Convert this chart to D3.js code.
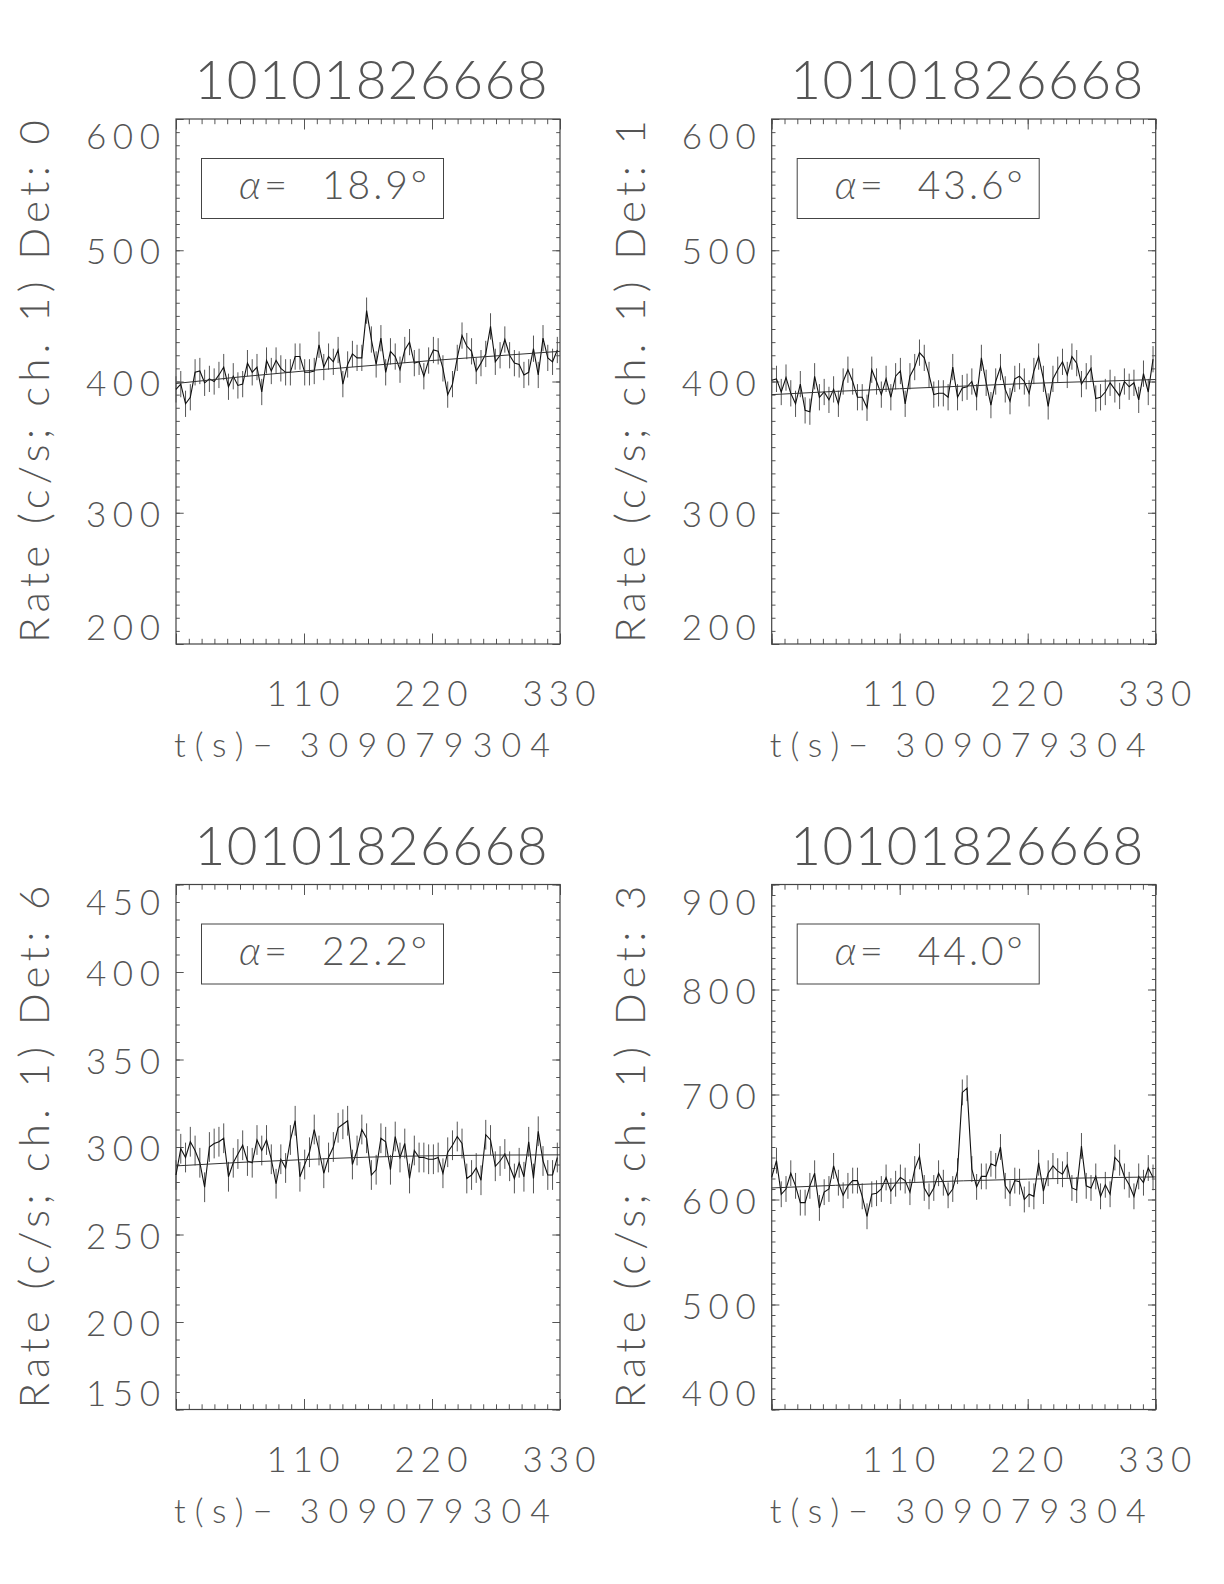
<!DOCTYPE html>
<html>
<head>
<meta charset="utf-8">
<script src="https://cdn.jsdelivr.net/npm/d3@7"></script>
<style>
  body { margin: 0; background: #fff; }
  svg text { font-family: Lato, Roboto, "DejaVu Sans", sans-serif; font-weight: 300; fill: #555; }
</style>
</head>
<body>
<div id="chart"></div>
<script>
// bin times, seconds after 309079304
var times = [
  0, 4.1, 8.2, 12.3, 16.4, 20.5, 24.6, 28.7, 32.8, 36.9,
  41.0, 45.1, 49.2, 53.2, 57.3, 61.4, 65.5, 69.6, 73.7, 77.8,
  81.9, 86.0, 90.1, 94.2, 98.3, 102.4, 106.5, 110.6, 114.7, 118.8,
  122.9, 127.0, 131.1, 135.2, 139.3, 143.4, 147.5, 151.6, 155.6, 159.7,
  163.8, 167.9, 172.0, 176.1, 180.2, 184.3, 188.4, 192.5, 196.6, 200.7,
  204.8, 208.9, 213.0, 217.1, 221.2, 225.3, 229.4, 233.5, 237.6, 241.7,
  245.8, 249.9, 254.0, 258.0, 262.1, 266.2, 270.3, 274.4, 278.5, 282.6,
  286.7, 290.8, 294.9, 299.0, 303.1, 307.2, 311.3, 315.4, 319.5, 323.6,
  327.7];

var det0Rate = [
  394, 398, 383, 388, 407, 408, 399, 402, 400, 405,
  411, 396, 404, 397, 398, 414, 407, 411, 392, 416,
  408, 416, 410, 407, 407, 419, 419, 407, 407, 408,
  428, 411, 419, 415, 424, 398, 413, 421, 418, 418,
  454, 432, 413, 433, 407, 423, 419, 409, 424, 430,
  414, 415, 404, 416, 424, 423, 410, 390, 398, 418,
  435, 427, 423, 408, 414, 421, 442, 415, 420, 432,
  420, 414, 413, 405, 407, 425, 405, 433, 418, 415,
  424];

var det1Rate = [
  401, 402, 392, 403, 391, 383, 398, 378, 377, 404,
  388, 392, 386, 394, 383, 400, 409, 400, 388, 388,
  380, 409, 400, 390, 402, 388, 404, 408, 383, 404,
  411, 422, 418, 405, 390, 391, 391, 388, 411, 388,
  395, 396, 400, 388, 418, 399, 382, 400, 411, 394,
  385, 402, 404, 400, 391, 408, 419, 402, 381, 402,
  409, 415, 405, 419, 414, 398, 404, 410, 387, 388,
  392, 399, 394, 389, 400, 396, 399, 386, 406, 392,
  417];

var det6Rate = [
  284, 299, 294, 303, 298, 291, 277, 300, 302, 303,
  305, 283, 291, 296, 301, 292, 291, 304, 298, 304,
  293, 279, 293, 288, 304, 315, 283, 290, 297, 310,
  298, 285, 294, 300, 311, 313, 315, 290, 298, 310,
  305, 284, 287, 305, 303, 287, 306, 294, 302, 282,
  298, 294, 294, 293, 293, 294, 285, 297, 301, 306,
  302, 282, 284, 288, 281, 307, 304, 289, 292, 296,
  289, 282, 291, 283, 303, 282, 309, 292, 284, 284,
  294];

var det3Rate = [
  621, 637, 605, 610, 625, 613, 597, 597, 613, 625,
  592, 607, 610, 632, 616, 604, 613, 618, 618, 603,
  584, 605, 606, 610, 621, 608, 615, 621, 618, 607,
  629, 641, 611, 603, 611, 625, 616, 604, 610, 627,
  702, 706, 629, 612, 622, 622, 634, 632, 650, 613,
  606, 618, 617, 600, 605, 603, 635, 608, 625, 632,
  627, 624, 633, 611, 609, 651, 613, 611, 622, 603,
  614, 605, 640, 635, 622, 614, 603, 622, 616, 630,
  621];

// background fit, sampled
var fitTimes = [0, 55, 110, 165, 220, 275, 330];
var det0Fit = [398.5, 403.5, 408, 412, 416, 419.5, 423];
var det1Fit = [390, 392.5, 394.5, 396.5, 398.5, 400, 401.5];
var det6Fit = [289.2, 291.2, 292.8, 294.2, 295, 295.4, 295.5];
var det3Fit = [611, 613.5, 615.8, 617.8, 619.4, 620.6, 621.5];

var rateErr = [10, 10, 8.5, 12.3];
var detNames = ["0", "1", "6", "3"];
var alphas = ["18.9", "43.6", "22.2", "44.0"];
var yRanges = [[200, 600], [200, 600], [150, 450], [400, 900]];
var yMajor = [100, 100, 50, 100];
var xMajorTicks = [0, 110, 220, 330];
var xTickLabels = ["", "110", "220", "330"];
var title = "10101826668";
var xTitle = "t(s)\u2212 309079304";

var rates = [det0Rate, det1Rate, det6Rate, det3Rate];
var fits = [det0Fit, det1Fit, det6Fit, det3Fit];

var lefts = [176, 771.7, 176, 771.7],
    tops = [119, 119, 884.5, 884.5];
var w = 384, h = 525;

var svg = d3.select("#chart")
  .append("svg")
    .attr("width", 1224)
    .attr("height", 1584);

rates.forEach(function(rate, p) {
  var g = svg.append("g")
    .attr("transform", `translate(${lefts[p]},${tops[p]})`);

  var x = d3.scaleLinear().domain([0, 330]).range([0, w]),
      y = d3.scaleLinear().domain(yRanges[p]).range([h, 0]);

  var xMinor = d3.range(0, 331, 11),
      yMinor = d3.range(yRanges[p][0], yRanges[p][1] + 1, 10),
      yTicks = d3.range(yRanges[p][0], yRanges[p][1] + 1, yMajor[p]);

  function noDomain(a) { a.select(".domain").remove(); a.selectAll("line").attr("stroke", "#555"); }

  // ticks on all four sides, pointing inward
  g.append("g").attr("transform", `translate(0,${h})`)
    .call(d3.axisBottom(x).tickValues(xMinor).tickSize(-5.2).tickFormat("")).call(noDomain);
  g.append("g").attr("transform", `translate(0,${h})`)
    .call(d3.axisBottom(x).tickValues(xMajorTicks).tickSize(-10.5).tickFormat("")).call(noDomain);
  g.append("g")
    .call(d3.axisTop(x).tickValues(xMinor).tickSize(-5.2).tickFormat("")).call(noDomain);
  g.append("g")
    .call(d3.axisTop(x).tickValues(xMajorTicks).tickSize(-10.5).tickFormat("")).call(noDomain);
  g.append("g")
    .call(d3.axisLeft(y).tickValues(yMinor).tickSize(-3.8).tickFormat("")).call(noDomain);
  g.append("g")
    .call(d3.axisLeft(y).tickValues(yTicks).tickSize(-7.7).tickFormat("")).call(noDomain);
  g.append("g").attr("transform", `translate(${w},0)`)
    .call(d3.axisRight(y).tickValues(yMinor).tickSize(-3.8).tickFormat("")).call(noDomain);
  g.append("g").attr("transform", `translate(${w},0)`)
    .call(d3.axisRight(y).tickValues(yTicks).tickSize(-7.7).tickFormat("")).call(noDomain);

  g.append("rect")
    .attr("width", w).attr("height", h)
    .attr("fill", "none").attr("stroke", "#444").attr("stroke-width", 1.2);

  // error bars
  g.selectAll(".err")
    .data(rate)
    .join("line")
      .attr("class", "err")
      .attr("x1", (d, i) => x(times[i]))
      .attr("x2", (d, i) => x(times[i]))
      .attr("y1", d => y(d - rateErr[p]))
      .attr("y2", d => y(d + rateErr[p]))
      .attr("stroke", "#555")
      .attr("stroke-width", 1);

  g.append("path")
    .datum(rate)
    .attr("d", d3.line().x((d, i) => x(times[i])).y(d => y(d)))
    .attr("fill", "none").attr("stroke", "#111").attr("stroke-width", 1.1);

  g.append("path")
    .datum(fits[p])
    .attr("d", d3.line().x((d, i) => x(fitTimes[i])).y(d => y(d)).curve(d3.curveMonotoneX))
    .attr("fill", "none").attr("stroke", "#333").attr("stroke-width", 1);

  // y tick labels (end labels pulled inside the box height)
  g.selectAll(".ylab")
    .data(yTicks)
    .join("text")
      .attr("class", "ylab")
      .attr("x", -16)
      .attr("y", (d, i) => i === 0 ? h - 4 : i === yTicks.length - 1 ? 30 : y(d) + 14)
      .attr("text-anchor", "end")
      .attr("font-size", 35)
      .attr("textLength", 74)
      .attr("lengthAdjust", "spacing")
      .text(d => d);

  // x tick labels
  g.selectAll(".xlab")
    .data(xMajorTicks)
    .join("text")
      .attr("class", "xlab")
      .attr("x", d => x(d) - 1)
      .attr("y", h + 62)
      .attr("text-anchor", "middle")
      .attr("font-size", 35)
      .attr("textLength", (d, i) => xTickLabels[i] ? 73 : null)
      .attr("lengthAdjust", "spacing")
      .text((d, i) => xTickLabels[i]);

  g.append("text")
    .attr("x", w / 2 - 6).attr("y", h + 113)
    .attr("text-anchor", "middle")
    .attr("font-size", 34)
    .attr("textLength", 376)
    .attr("lengthAdjust", "spacing")
    .text(xTitle);

  g.append("text")
    .attr("x", w / 2 + 3).attr("y", -20)
    .attr("text-anchor", "middle")
    .attr("font-size", 53)
    .attr("textLength", 353)
    .attr("lengthAdjust", "spacing")
    .text(title);

  g.append("text")
    .attr("transform", `translate(-127,${h / 2}) rotate(-90)`)
    .attr("text-anchor", "middle")
    .attr("font-size", 42)
    .attr("textLength", 523)
    .attr("lengthAdjust", "spacing")
    .text("Rate (c/s; ch. 1) Det: " + detNames[p]);

  // angle label
  g.append("rect")
    .attr("x", 25.5).attr("y", 39.5)
    .attr("width", 242).attr("height", 60)
    .attr("fill", "none").attr("stroke", "#444").attr("stroke-width", 1);

  g.append("text")
    .attr("x", 63).attr("y", 80)
    .attr("font-size", 40)
    .style("font-style", "italic")
    .text("\u03b1");
  g.append("text")
    .attr("x", 88).attr("y", 80)
    .attr("font-size", 40)
    .text("=");
  g.append("text")
    .attr("x", 146).attr("y", 80)
    .attr("font-size", 39)
    .attr("textLength", 105)
    .attr("lengthAdjust", "spacing")
    .text(alphas[p] + "\u00b0");
});
</script>
</body>
</html>
